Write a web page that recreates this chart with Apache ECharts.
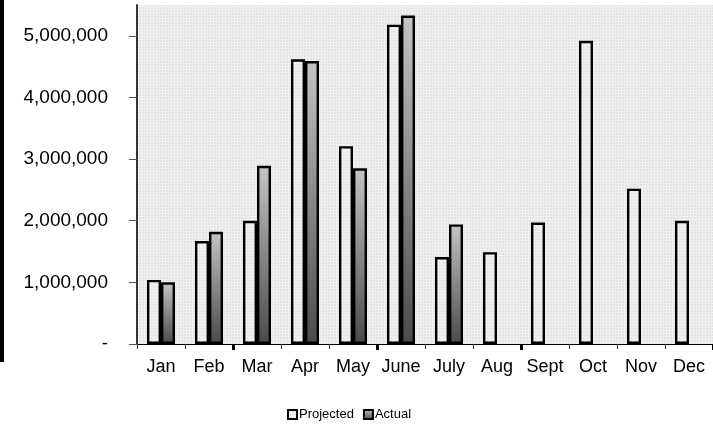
<!DOCTYPE html>
<html>
<head>
<meta charset="utf-8">
<script src="https://cdn.jsdelivr.net/npm/echarts@6/dist/echarts.min.js"></script>
<style>html,body{margin:0;padding:0;background:#fff}#c{width:713px;height:432px}</style>
</head>
<body>
<div id="c"></div>
<script>
var categories = ['Jan','Feb','Mar','Apr','May','June','July','Aug','Sept','Oct','Nov','Dec'];
var projected = [1040000,1670000,2000000,4620000,3210000,5180000,1410000,1490000,1970000,4920000,2520000,2000000];
var actual = [1000000,1820000,2890000,4590000,2850000,5330000,1940000,null,null,null,null,null];
var yTicks = [0,1000000,2000000,3000000,4000000,5000000];

function makePattern(base, line){
  var cv = document.createElement('canvas');
  cv.width = 3; cv.height = 3;
  var ctx = cv.getContext('2d');
  ctx.fillStyle = base; ctx.fillRect(0,0,3,3);
  ctx.fillStyle = line; ctx.fillRect(0,0,3,1); ctx.fillRect(0,0,1,3);
  return {image: cv, repeat: 'repeat'};
}
var bgPattern = makePattern('#e3e3e3', '#f1f1f1');
var barPattern = makePattern('#e6e6e6', '#f3f3f3');

var font = '"Liberation Sans", Arial, sans-serif';
var chart = echarts.init(document.getElementById('c'), null, {renderer: 'canvas'});
chart.setOption({
  animation: false,
  backgroundColor: '#fff',
  grid: {left: 137, right: 0, top: 5, bottom: 88, show: true, backgroundColor: bgPattern, borderWidth: 0},
  legend: {
    bottom: 6, left: 282, icon: 'rect', itemWidth: 9, itemHeight: 9, itemGap: 9,
    textStyle: {fontFamily: font, fontSize: 13, color: '#000', padding: [0,0,0,-3]},
    data: ['Projected','Actual']
  },
  xAxis: [{
    type: 'category', data: categories,
    axisLine: {show: true, lineStyle: {color: '#000', width: 1}},
    axisTick: {show: true, length: 5, lineStyle: {color: '#444', width: 1}},
    axisLabel: {fontFamily: font, fontSize: 18, color: '#000', margin: 14, interval: 0}
  },{
    type: 'category', data: categories, position: 'bottom',
    axisLine: {show: false},
    axisLabel: {show: false},
    axisTick: {show: true, length: 6, interval: function(i){ return i===2||i===5||i===8; }, lineStyle: {color: '#000', width: 3}}
  }],
  yAxis: {
    type: 'value', min: 0, max: 5500000, interval: 1000000,
    splitLine: {show: false},
    axisLine: {show: true, lineStyle: {color: '#333', width: 2}},
    axisTick: {show: true, length: 8, customValues: yTicks, lineStyle: {color: '#555', width: 1}},
    axisLabel: {
      customValues: yTicks,
      fontFamily: font, fontSize: 19, color: '#000', margin: 29,
      formatter: function(v){ return v === 0 ? '-' : v.toString().replace(/\B(?=(\d{3})+(?!\d))/g, ','); }
    }
  },
  series: [{
    name: 'Projected', type: 'bar', data: projected, barWidth: 14, barGap: '0%',
    itemStyle: {color: barPattern, borderColor: '#000', borderWidth: 2.4}
  },{
    name: 'Actual', type: 'bar', data: actual, barWidth: 14,
    itemStyle: {
      color: new echarts.graphic.LinearGradient(0,0,0,1,[{offset:0,color:'#c4c4c4'},{offset:1,color:'#4a4a4a'}]),
      borderColor: '#000', borderWidth: 2.4
    }
  }],
  graphic: [{type: 'rect', left: 0, top: 0, shape: {x: 0, y: 0, width: 4, height: 362}, style: {fill: '#000'}, silent: true}]
});
</script>
</body>
</html>
